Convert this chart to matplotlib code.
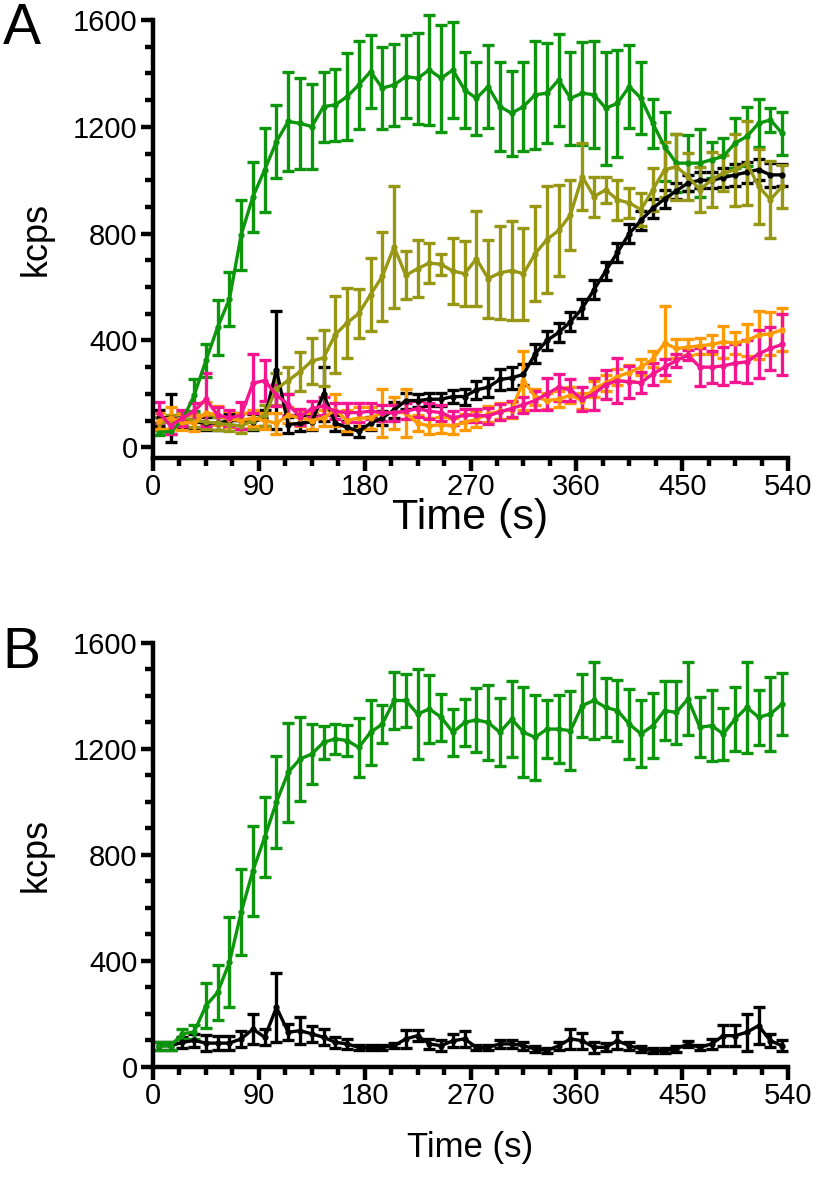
import matplotlib
matplotlib.use("Agg")
import matplotlib.pyplot as plt
from matplotlib.ticker import MultipleLocator

plt.rcParams['font.family'] = ['Liberation Sans', 'DejaVu Sans']

# tempo (s) de cada leitura
tempos = [5, 15, 25, 35, 45, 55, 65, 75, 85, 95,
          105, 115, 125, 135, 145, 155, 165, 175, 185, 195,
          205, 215, 225, 235, 245, 255, 265, 275, 285, 295,
          305, 315, 325, 335, 345, 355, 365, 375, 385, 395,
          405, 415, 425, 435, 445, 455, 465, 475, 485, 495,
          505, 515, 525, 535]

# painel A
verde_a = [55, 60, 100, 195, 325, 450, 555, 796, 939, 1039,
           1145, 1220, 1213, 1201, 1276, 1282, 1313, 1357, 1407, 1345,
           1357, 1388, 1382, 1413, 1382, 1413, 1338, 1307, 1351, 1276,
           1251, 1276, 1320, 1326, 1376, 1307, 1326, 1320, 1270, 1288,
           1351, 1307, 1213, 1126, 1064, 1064, 1064, 1077, 1089, 1139,
           1164, 1213, 1226, 1176]
verde_a_err = [10, 10, 20, 60, 60, 103, 100, 131, 131, 158,
               137, 187, 170, 158, 131, 135, 162, 165, 137, 153,
               153, 156, 171, 206, 200, 181, 144, 137, 156, 165,
               159, 168, 202, 187, 172, 174, 193, 200, 212, 200,
               156, 134, 93, 130, 109, 106, 128, 68, 70, 93,
               112, 90, 45, 80]

oliva_a = [90, 95, 110, 100, 95, 90, 85, 80, 100, 120,
           220, 250, 283, 323, 335, 422, 466, 501, 572, 640,
           750, 644, 669, 690, 685, 660, 650, 706, 632, 653,
           662, 650, 725, 778, 812, 871, 1014, 939, 964, 927,
           915, 890, 964, 1039, 1051, 1014, 964, 1002, 1027, 1039,
           1064, 977, 927, 977]
oliva_a_err = [25, 25, 25, 25, 25, 25, 25, 25, 30, 40,
               60, 50, 72, 87, 106, 143, 131, 90, 137, 168,
               228, 90, 108, 75, 40, 125, 121, 178, 146, 174,
               184, 172, 178, 199, 171, 131, 125, 75, 50, 75,
               55, 62, 81, 103, 124, 87, 84, 103, 68, 134,
               156, 140, 144, 80]

preto_a = [110, 110, 100, 95, 90, 90, 100, 100, 95, 110,
           290, 85, 90, 95, 200, 90, 75, 60, 90, 110,
           140, 175, 175, 180, 180, 190, 190, 215, 225, 254,
           260, 273, 350, 400, 430, 470, 520, 590, 660, 730,
           800, 850, 895, 930, 960, 990, 1000, 1000, 1010, 1020,
           1030, 1040, 1020, 1020]
preto_a_err = [30, 90, 25, 25, 25, 25, 25, 30, 30, 30,
               220, 30, 30, 30, 100, 30, 25, 20, 25, 25,
               30, 30, 25, 25, 25, 25, 30, 35, 35, 40,
               40, 40, 35, 35, 35, 35, 35, 35, 35, 35,
               35, 35, 35, 35, 30, 30, 30, 30, 35, 40,
               40, 40, 45, 40]

laranja_a = [100, 110, 95, 90, 130, 120, 105, 100, 110, 100,
             90, 120, 110, 100, 110, 140, 100, 110, 110, 130,
             130, 130, 90, 80, 85, 80, 93, 105, 125, 135,
             140, 250, 190, 175, 180, 195, 175, 220, 240, 265,
             280, 300, 330, 390, 370, 375, 380, 385, 395, 390,
             400, 420, 425, 440]
laranja_a_err = [30, 40, 30, 30, 40, 35, 30, 30, 30, 30,
                 40, 30, 30, 30, 30, 60, 40, 40, 40, 90,
                 60, 90, 30, 30, 30, 30, 30, 30, 30, 30,
                 30, 110, 30, 30, 30, 30, 30, 30, 30, 30,
                 30, 30, 30, 140, 35, 30, 30, 35, 60, 40,
                 60, 90, 80, 80]

rosa_a = [130, 80, 110, 135, 180, 120, 110, 120, 240, 250,
          195, 160, 115, 145, 155, 135, 130, 130, 135, 130,
          130, 135, 145, 135, 130, 110, 120, 120, 117, 133,
          145, 160, 175, 200, 225, 215, 180, 200, 235, 250,
          245, 242, 275, 300, 325, 345, 300, 300, 305, 315,
          320, 350, 370, 385]
rosa_a_err = [40, 30, 30, 30, 100, 30, 30, 50, 110, 75,
              40, 40, 30, 30, 35, 30, 35, 35, 30, 30,
              30, 30, 30, 30, 30, 25, 25, 25, 30, 30,
              30, 30, 35, 60, 50, 40, 45, 60, 55, 86,
              60, 40, 40, 30, 25, 20, 70, 60, 70, 70,
              80, 90, 80, 115]

# painel B
verde_b = [80, 80, 125, 132, 231, 282, 395, 584, 741, 867,
           1000, 1112, 1162, 1181, 1225, 1238, 1232, 1206, 1263, 1294,
           1383, 1383, 1332, 1351, 1320, 1263, 1300, 1310, 1300, 1263,
           1313, 1263, 1244, 1275, 1275, 1269, 1364, 1383, 1357, 1345,
           1294, 1257, 1288, 1345, 1338, 1389, 1282, 1288, 1257, 1313,
           1357, 1320, 1332, 1370]
verde_b_err = [15, 15, 20, 25, 85, 104, 170, 163, 170, 151,
               173, 186, 157, 113, 63, 57, 60, 110, 123, 72,
               107, 101, 170, 129, 88, 88, 88, 120, 142, 129,
               142, 170, 160, 110, 129, 148, 120, 145, 110, 116,
               132, 126, 123, 110, 120, 138, 113, 135, 97, 120,
               173, 104, 138, 116]

preto_b = [80, 80, 93, 100, 90, 90, 90, 106, 143, 112,
           225, 131, 137, 125, 112, 93, 87, 74, 74, 74,
           80, 106, 118, 87, 80, 99, 106, 74, 74, 87,
           87, 80, 68, 62, 80, 106, 99, 74, 74, 99,
           80, 68, 62, 62, 68, 87, 74, 87, 118, 118,
           131, 156, 99, 80]
preto_b_err = [15, 15, 20, 25, 30, 25, 25, 30, 57, 30,
               130, 30, 52, 31, 31, 20, 20, 10, 10, 10,
               10, 35, 20, 20, 20, 25, 30, 10, 10, 15,
               15, 15, 10, 10, 15, 37, 30, 20, 15, 32,
               15, 10, 10, 10, 10, 10, 10, 20, 40, 40,
               69, 69, 25, 20]

VERDE = '#0c960c'
OLIVA = '#979714'
PRETO = '#000000'
LARANJA = '#ff9a00'
ROSA = '#f5168f'


def curva(ax, y, err, cor):
    ax.errorbar(tempos, y, yerr=err, color=cor, lw=2.4, elinewidth=2.4,
                capsize=4.5, capthick=2.4, marker='o', ms=3.5, clip_on=False)


def estilo(ax, ybaixo, tam_x, pad_x):
    ax.set_xlim(0, 540)
    ax.set_ylim(ybaixo, 1600)
    for s in ['top', 'right']:
        ax.spines[s].set_visible(False)
    for s in ['left', 'bottom']:
        ax.spines[s].set_linewidth(3.2)
    ax.set_xticks(range(0, 541, 90))
    ax.xaxis.set_minor_locator(MultipleLocator(22.5))
    ax.set_yticks([0, 400, 800, 1200, 1600])
    ax.yaxis.set_minor_locator(MultipleLocator(100))
    ax.tick_params(which='major', length=9, width=3.2, labelsize=21, pad=2)
    ax.tick_params(which='minor', length=6, width=3.2)
    ax.set_xlabel('Time (s)', fontsize=tam_x, labelpad=pad_x)
    ax.set_ylabel('kcps', fontsize=26, labelpad=14)


fig = plt.figure(figsize=(8.16, 11.77), dpi=100)

ax1 = fig.add_axes([0.1875, 0.6109, 0.7782, 0.3721])
curva(ax1, verde_a, verde_a_err, VERDE)
curva(ax1, preto_a, preto_a_err, PRETO)
curva(ax1, oliva_a, oliva_a_err, OLIVA)
curva(ax1, laranja_a, laranja_a_err, LARANJA)
curva(ax1, rosa_a, rosa_a_err, ROSA)
estilo(ax1, -40, 31, -2)

ax2 = fig.add_axes([0.1875, 0.0935, 0.7782, 0.3602])
curva(ax2, preto_b, preto_b_err, PRETO)
curva(ax2, verde_b, verde_b_err, VERDE)
estilo(ax2, 0, 25, 15)

fig.text(0.003, 0.998, 'A', fontsize=41, va='top', ha='left')
fig.text(0.003, 0.468, 'B', fontsize=41, va='top', ha='left')

fig.savefig('out.png', dpi=100)
